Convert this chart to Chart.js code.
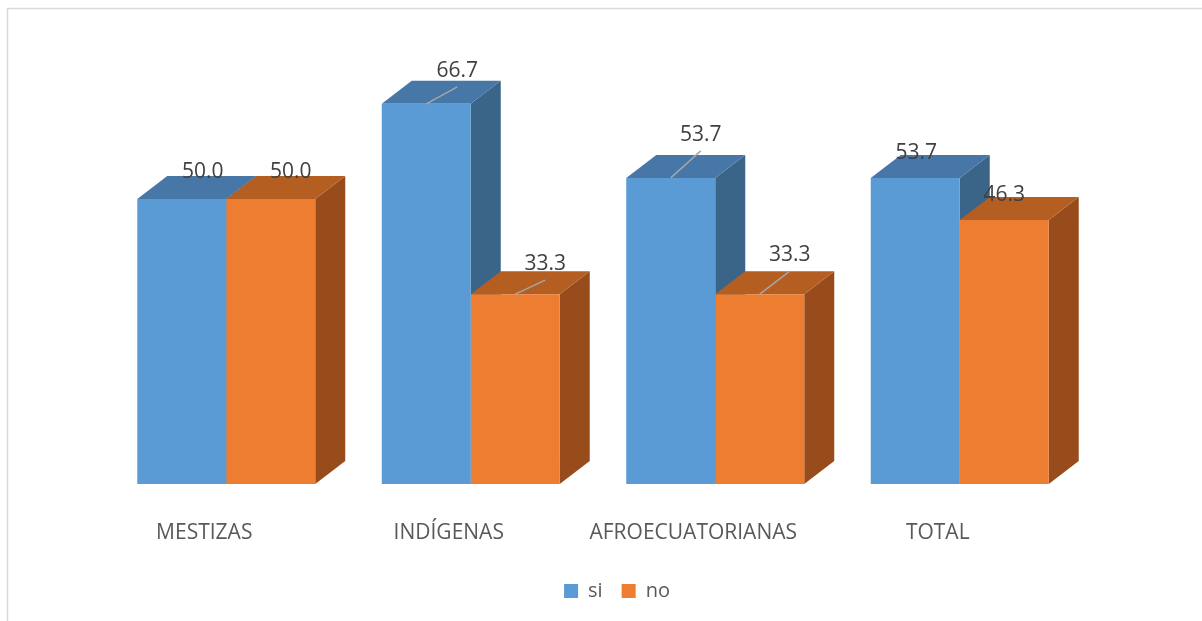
<!DOCTYPE html>
<html>
<head>
<meta charset="utf-8">
<script src="https://cdn.jsdelivr.net/npm/chart.js@4"></script>
<style>
  html, body { margin: 0; padding: 0; background: #fff; }
  #wrap { width: 1202px; height: 621px; }
</style>
</head>
<body>
<div id="wrap"><canvas id="chart" width="1202" height="621"></canvas></div>
<script>
const categories = ['MESTIZAS', 'INDÍGENAS', 'AFROECUATORIANAS', 'TOTAL'];
const siValues = [50.0, 66.7, 53.7, 53.7];
const noValues = [50.0, 33.3, 33.3, 46.3];

// shading for the 3D faces: [front, top, side]
const blueShades = ['#5B9BD5', '#4677A7', '#3A6488'];
const orangeShades = ['#ED7D31', '#B45E22', '#984C1C'];

// where each value label sits relative to the bar's front-top centre
const labelSpots = [
  [[21, -27, false], [31, -33, true], [30, -43, true], [1, -25, false]],
  [[20, -27, false], [30, -30, true], [30, -39, true], [0, -25, false]]
];

const DEPTH_X = 30, DEPTH_Y = -23;

const frame = {
  id: 'frame',
  beforeDraw(chart) {
    const { ctx, width, height } = chart;
    ctx.save();
    ctx.strokeStyle = '#D9D9D9';
    ctx.lineWidth = 1.5;
    ctx.beginPath();
    ctx.moveTo(7.5, height);
    ctx.lineTo(7.5, 8.5);
    ctx.lineTo(width, 8.5);
    ctx.stroke();
    ctx.restore();
  }
};

// legend sits a little right of the plot centre
const legendShift = {
  id: 'legendShift',
  afterLayout(chart) {
    chart.legend.left += 24;
    chart.legend.right += 24;
  }
};

// top and side faces go under the flat bars Chart.js draws
const boxes = {
  id: 'boxes',
  beforeDatasetsDraw(chart) {
    const { ctx } = chart;
    const shades = [blueShades, orangeShades];
    ctx.save();
    for (let i = 0; i < categories.length; i++) {
      chart.data.datasets.forEach((ds, d) => {
        const bar = chart.getDatasetMeta(d).data[i];
        const l = bar.x - bar.width / 2, r = bar.x + bar.width / 2;
        const t = bar.y, b = bar.base;
        // side
        ctx.fillStyle = shades[d][2];
        ctx.beginPath();
        ctx.moveTo(r, t);
        ctx.lineTo(r + DEPTH_X, t + DEPTH_Y);
        ctx.lineTo(r + DEPTH_X, b + DEPTH_Y);
        ctx.lineTo(r, b);
        ctx.closePath();
        ctx.fill();
        // top
        ctx.fillStyle = shades[d][1];
        ctx.beginPath();
        ctx.moveTo(l, t);
        ctx.lineTo(l + DEPTH_X, t + DEPTH_Y);
        ctx.lineTo(r + DEPTH_X, t + DEPTH_Y);
        ctx.lineTo(r, t);
        ctx.closePath();
        ctx.fill();
      });
    }
    ctx.restore();
  },
  afterDatasetsDraw(chart) {
    const { ctx } = chart;
    ctx.save();
    ctx.font = '21px "Open Sans"';
    ctx.textAlign = 'center';
    ctx.textBaseline = 'middle';
    chart.data.datasets.forEach((ds, d) => {
      chart.getDatasetMeta(d).data.forEach((bar, i) => {
        const [dx, dy, leader] = labelSpots[d][i];
        const lx = bar.x + dx, ly = bar.y + dy;
        if (leader) {
          ctx.strokeStyle = '#A6A6A6';
          ctx.lineWidth = 1.5;
          ctx.beginPath();
          ctx.moveTo(bar.x, bar.y);
          ctx.lineTo(lx, ly + 16);
          ctx.stroke();
        }
        ctx.fillStyle = '#404040';
        ctx.fillText(ds.data[i].toFixed(1), lx, ly);
      });
    });
    ctx.restore();
  }
};

new Chart(document.getElementById('chart'), {
  type: 'bar',
  data: {
    labels: categories,
    datasets: [
      { label: 'si', data: siValues, backgroundColor: blueShades[0] },
      { label: 'no', data: noValues, backgroundColor: orangeShades[0] }
    ]
  },
  options: {
    responsive: false,
    animation: false,
    layout: { padding: { top: 28, left: 104, right: 120, bottom: 10 } },
    datasets: {
      bar: { barPercentage: 1, categoryPercentage: 0.728 }
    },
    plugins: {
      tooltip: { enabled: false },
      legend: {
        position: 'bottom',
        labels: {
          boxWidth: 14,
          boxHeight: 14,
          color: '#595959',
          font: { family: 'Open Sans', size: 20 },
          padding: 19
        }
      }
    },
    scales: {
      y: { display: false, min: 0, max: 80 },
      x: {
        grid: { display: false, drawTicks: false },
        border: { display: false },
        ticks: {
          color: '#595959',
          font: { family: 'Open Sans', size: 21 },
          padding: 36,
          labelOffset: -22
        },
        afterFit(scale) {
          scale.height = 78;
        }
      }
    }
  },
  plugins: [frame, legendShift, boxes]
});
</script>
</body>
</html>
